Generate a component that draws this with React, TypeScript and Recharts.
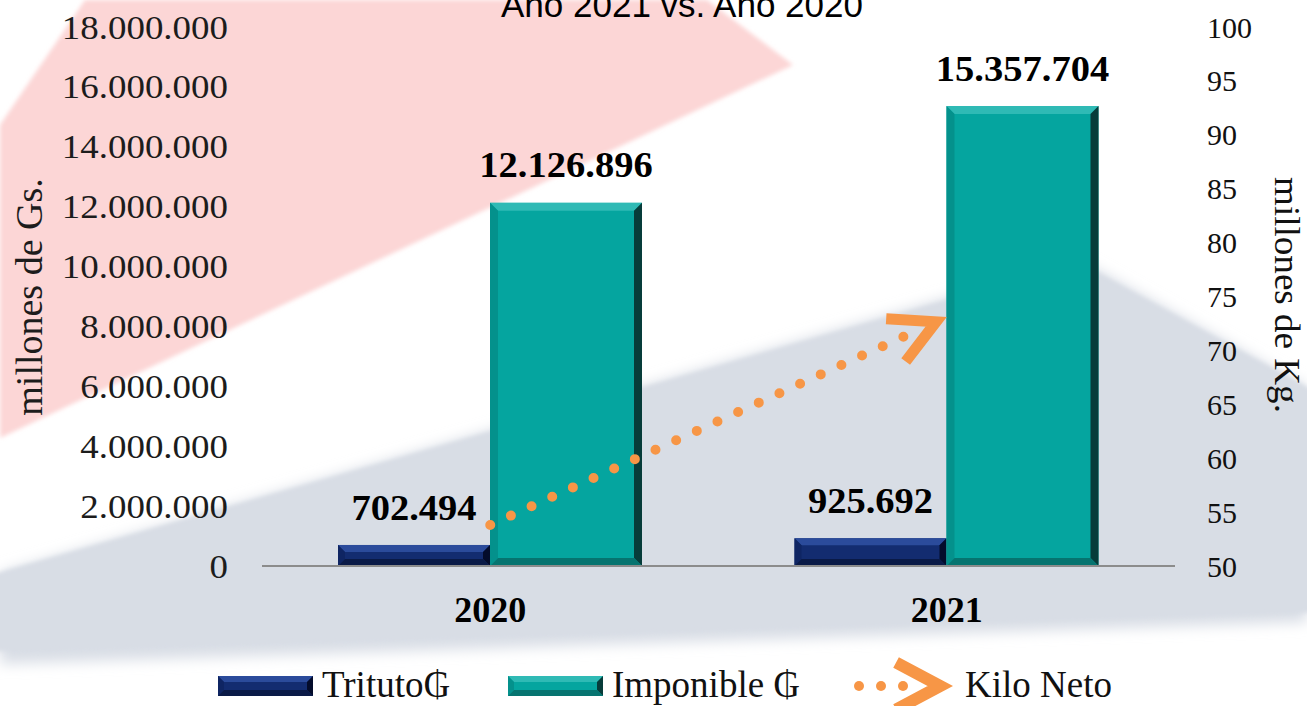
import React from 'react';
import { ComposedChart, Bar, Line, XAxis, YAxis, LabelList } from 'recharts';

const years = ['2020', '2021'];
const tributo = [702494, 925692];
const imponible = [12126896, 15357704];
const kiloNeto = [53.8, 73.1];
const leftTicks = [0, 2000000, 4000000, 6000000, 8000000, 10000000, 12000000, 14000000, 16000000, 18000000];
const rightTicks = [50, 55, 60, 65, 70, 75, 80, 85, 90, 95, 100];

const chartTitle = 'Año 2021 vs. Año 2020';
const leftTitle = 'millones de Gs.';
const rightTitle = 'millones de Kg.';
const legendNames = ['Trituto₲', 'Imponible ₲', 'Kilo Neto'];

const data = years.map((year, i) => ({
  year,
  tributo: tributo[i],
  imponible: imponible[i],
  kilo: kiloNeto[i],
}));

const SERIF = '"Liberation Serif", "Times New Roman", "DejaVu Serif", serif';
const SANS = '"Liberation Sans", Arial, sans-serif';
const ORANGE = '#F79646';

const NAVY = { main: '#132C70', top: '#2B4B9B', left: '#0F2563', right: '#040C2B', bottom: '#0A1A47' };
const TEAL = { main: '#05A59F', top: '#2FBAB5', left: '#04918C', right: '#073C3A', bottom: '#067470' };

// dotted line: 21 round dots, then a long gap so the arrow head stays clean
const dotPattern = Array.from({ length: 20 }, () => '0 22.7').join(' ') + ' 0 600';

const fmt = (n: number) => String(n).replace(/\B(?=(\d{3})+(?!\d))/g, '.');

const Stretch = ({ x, y, sx = 1, rotate = 0, anchor = 'middle', size, weight = 'normal', family = SERIF, fill = '#111', dy = 0, children }: any) => (
  <g transform={`translate(${x},${y}) rotate(${rotate}) scale(${sx},1)`}>
    <text x={0} y={0} dy={dy} textAnchor={anchor} fontSize={size} fontWeight={weight} fontFamily={family} fill={fill}>
      {children}
    </text>
  </g>
);

const BevelRect = ({ x, y, width: w, height: h, c, b = 8 }: any) => {
  if (!h || h <= 0) return null;
  const e = Math.min(b, h / 2.5, w / 4);
  return (
    <g>
      <rect x={x} y={y} width={w} height={h} fill={c.main} />
      <polygon points={`${x},${y} ${x + w},${y} ${x + w - e},${y + e} ${x + e},${y + e}`} fill={c.top} />
      <polygon points={`${x},${y} ${x + e},${y + e} ${x + e},${y + h - e} ${x},${y + h}`} fill={c.left} />
      <polygon points={`${x + w},${y} ${x + w},${y + h} ${x + w - e},${y + h - e} ${x + w - e},${y + e}`} fill={c.right} />
      <polygon points={`${x},${y + h} ${x + w},${y + h} ${x + w - e},${y + h - e} ${x + e},${y + h - e}`} fill={c.bottom} />
    </g>
  );
};

const Chevron = ({ tx, ty, angle, len = 48, half = 28, w = 11 }: any) => {
  const back = angle + Math.PI;
  const h = (half * Math.PI) / 180;
  const inset = w / 2 / Math.sin(h);
  const vx = tx - inset * Math.cos(angle);
  const vy = ty - inset * Math.sin(angle);
  const a1x = vx + len * Math.cos(back - h);
  const a1y = vy + len * Math.sin(back - h);
  const a2x = vx + len * Math.cos(back + h);
  const a2y = vy + len * Math.sin(back + h);
  return (
    <polyline
      points={`${a1x},${a1y} ${vx},${vy} ${a2x},${a2y}`}
      fill="none"
      stroke={ORANGE}
      strokeWidth={w}
      strokeLinejoin="miter"
      strokeMiterlimit={10}
    />
  );
};

const renderKiloDot = (p: any) => {
  const { cx, cy, index, points } = p;
  if (index !== data.length - 1) return <g key={`kd-${index}`} />;
  let angle = (-24.5 * Math.PI) / 180;
  if (points && points.length > 1) {
    const a = points[points.length - 2];
    const b = points[points.length - 1];
    angle = Math.atan2(b.y - a.y, b.x - a.x);
  }
  return (
    <g key={`kd-${index}`}>
      <Chevron tx={cx} ty={cy} angle={angle} len={50} />
    </g>
  );
};

const renderValueLabel = (p: any) => {
  const { x, y, width, value } = p;
  return (
    <Stretch x={Number(x) + Number(width) / 2} y={Number(y) - 38} sx={1.07} size={36} weight="bold" dy="0.35em" fill="#000">
      {fmt(Number(value))}
    </Stretch>
  );
};

const LeftTick = ({ x, y, payload }: any) => (
  <Stretch x={x} y={y} sx={1.12} anchor="end" size={33} dy="0.35em" fill="#1c1c1c">
    {fmt(payload.value)}
  </Stretch>
);

const RightTick = ({ x, y, payload }: any) => (
  <Stretch x={x} y={y} anchor="start" size={30} dy="0.35em" fill="#111">
    {payload.value}
  </Stretch>
);

const YearTick = ({ x, y, payload }: any) => (
  <Stretch x={x} y={y + 43} size={36} weight="bold" dy="0.35em" fill="#000">
    {payload.value}
  </Stretch>
);

const Background = () => (
  <svg width={1307} height={706} style={{ position: 'absolute', left: 0, top: 0 }}>
    <defs>
      <filter id="soft" x="-5%" y="-5%" width="110%" height="110%">
        <feGaussianBlur stdDeviation="2" />
      </filter>
      <filter id="softer" x="-5%" y="-5%" width="110%" height="120%">
        <feGaussianBlur stdDeviation="7" />
      </filter>
    </defs>
    <rect x={0} y={0} width={1307} height={706} fill="#ffffff" />
    <polygon points="0,125 85,0 707,0 793,65 0,438" fill="#FCD6D6" filter="url(#soft)" />
    <polygon points="0,573 1079,260 1307,387 1307,622 0,664" fill="#D8DDE5" filter="url(#softer)" />
    <polygon points="-20,578 1079,262 1320,394 1320,612 -20,652" fill="#D8DDE5" filter="url(#soft)" />
  </svg>
);

const Legend = () => (
  <svg width={1307} height={706} style={{ position: 'absolute', left: 0, top: 0, pointerEvents: 'none' }}>
    <text x={682} y={17} textAnchor="middle" fontSize={35} fontFamily={SANS} fill="#000">
      {chartTitle}
    </text>
    <BevelRect x={218} y={676} width={95} height={20} c={NAVY} b={6} />
    <text x={322} y={697} fontSize={37} fontFamily={SERIF} fill="#111">{legendNames[0]}</text>
    <BevelRect x={508} y={676} width={95} height={20} c={TEAL} b={6} />
    <text x={612} y={697} fontSize={37} fontFamily={SERIF} fill="#111">{legendNames[1]}</text>
    {[859, 881, 903].map((cx) => (
      <circle key={cx} cx={cx} cy={686} r={5} fill={ORANGE} />
    ))}
    <Chevron tx={953} ty={686} angle={0} len={50} half={28} w={12} />
    <text x={965} y={697} fontSize={37} fontFamily={SERIF} fill="#111">{legendNames[2]}</text>
  </svg>
);

export default function App() {
  return (
    <div style={{ position: 'absolute', left: 0, top: 0, width: 1307, height: 706, overflow: 'hidden', background: '#fff' }}>
      <Background />
      <div style={{ position: 'absolute', left: 0, top: 0 }}>
        <ComposedChart width={1307} height={706} data={data} margin={{ top: 27, right: 0, bottom: 0, left: 0 }} barGap={0}>
          <XAxis
            dataKey="year"
            height={140}
            axisLine={{ stroke: '#8c8c8c', strokeWidth: 2 }}
            tickLine={false}
            tickSize={0}
            tickMargin={0}
            tick={YearTick}
          />
          <YAxis
            yAxisId="left"
            width={262}
            domain={[0, 18000000]}
            ticks={leftTicks}
            interval={0}
            axisLine={false}
            tickLine={false}
            tickSize={0}
            tickMargin={34}
            tick={LeftTick}
            label={{
              content: () => (
                <Stretch x={42} y={297} rotate={-90} size={38} fill="#1c1c1c">
                  {leftTitle}
                </Stretch>
              ),
            }}
          />
          <YAxis
            yAxisId="right"
            orientation="right"
            width={132}
            domain={[50, 100]}
            ticks={rightTicks}
            interval={0}
            axisLine={false}
            tickLine={false}
            tickSize={0}
            tickMargin={32}
            tick={RightTick}
            label={{
              content: () => (
                <Stretch x={1275} y={295} rotate={90} sx={1.06} size={35} fill="#111">
                  {rightTitle}
                </Stretch>
              ),
            }}
          />
          <Bar yAxisId="left" dataKey="tributo" name={legendNames[0]} barSize={152} isAnimationActive={false}
            shape={(p: any) => <BevelRect {...p} c={NAVY} b={7} />}>
            <LabelList dataKey="tributo" content={renderValueLabel} />
          </Bar>
          <Bar yAxisId="left" dataKey="imponible" name={legendNames[1]} barSize={152} isAnimationActive={false}
            shape={(p: any) => <BevelRect {...p} c={TEAL} b={8} />}>
            <LabelList dataKey="imponible" content={renderValueLabel} />
          </Bar>
          <Line
            yAxisId="right"
            type="linear"
            dataKey="kilo"
            name={legendNames[2]}
            stroke={ORANGE}
            strokeWidth={10}
            strokeLinecap="round"
            strokeDasharray={dotPattern}
            dot={renderKiloDot}
            activeDot={false}
            isAnimationActive={false}
          />
        </ComposedChart>
      </div>
      <Legend />
    </div>
  );
}
